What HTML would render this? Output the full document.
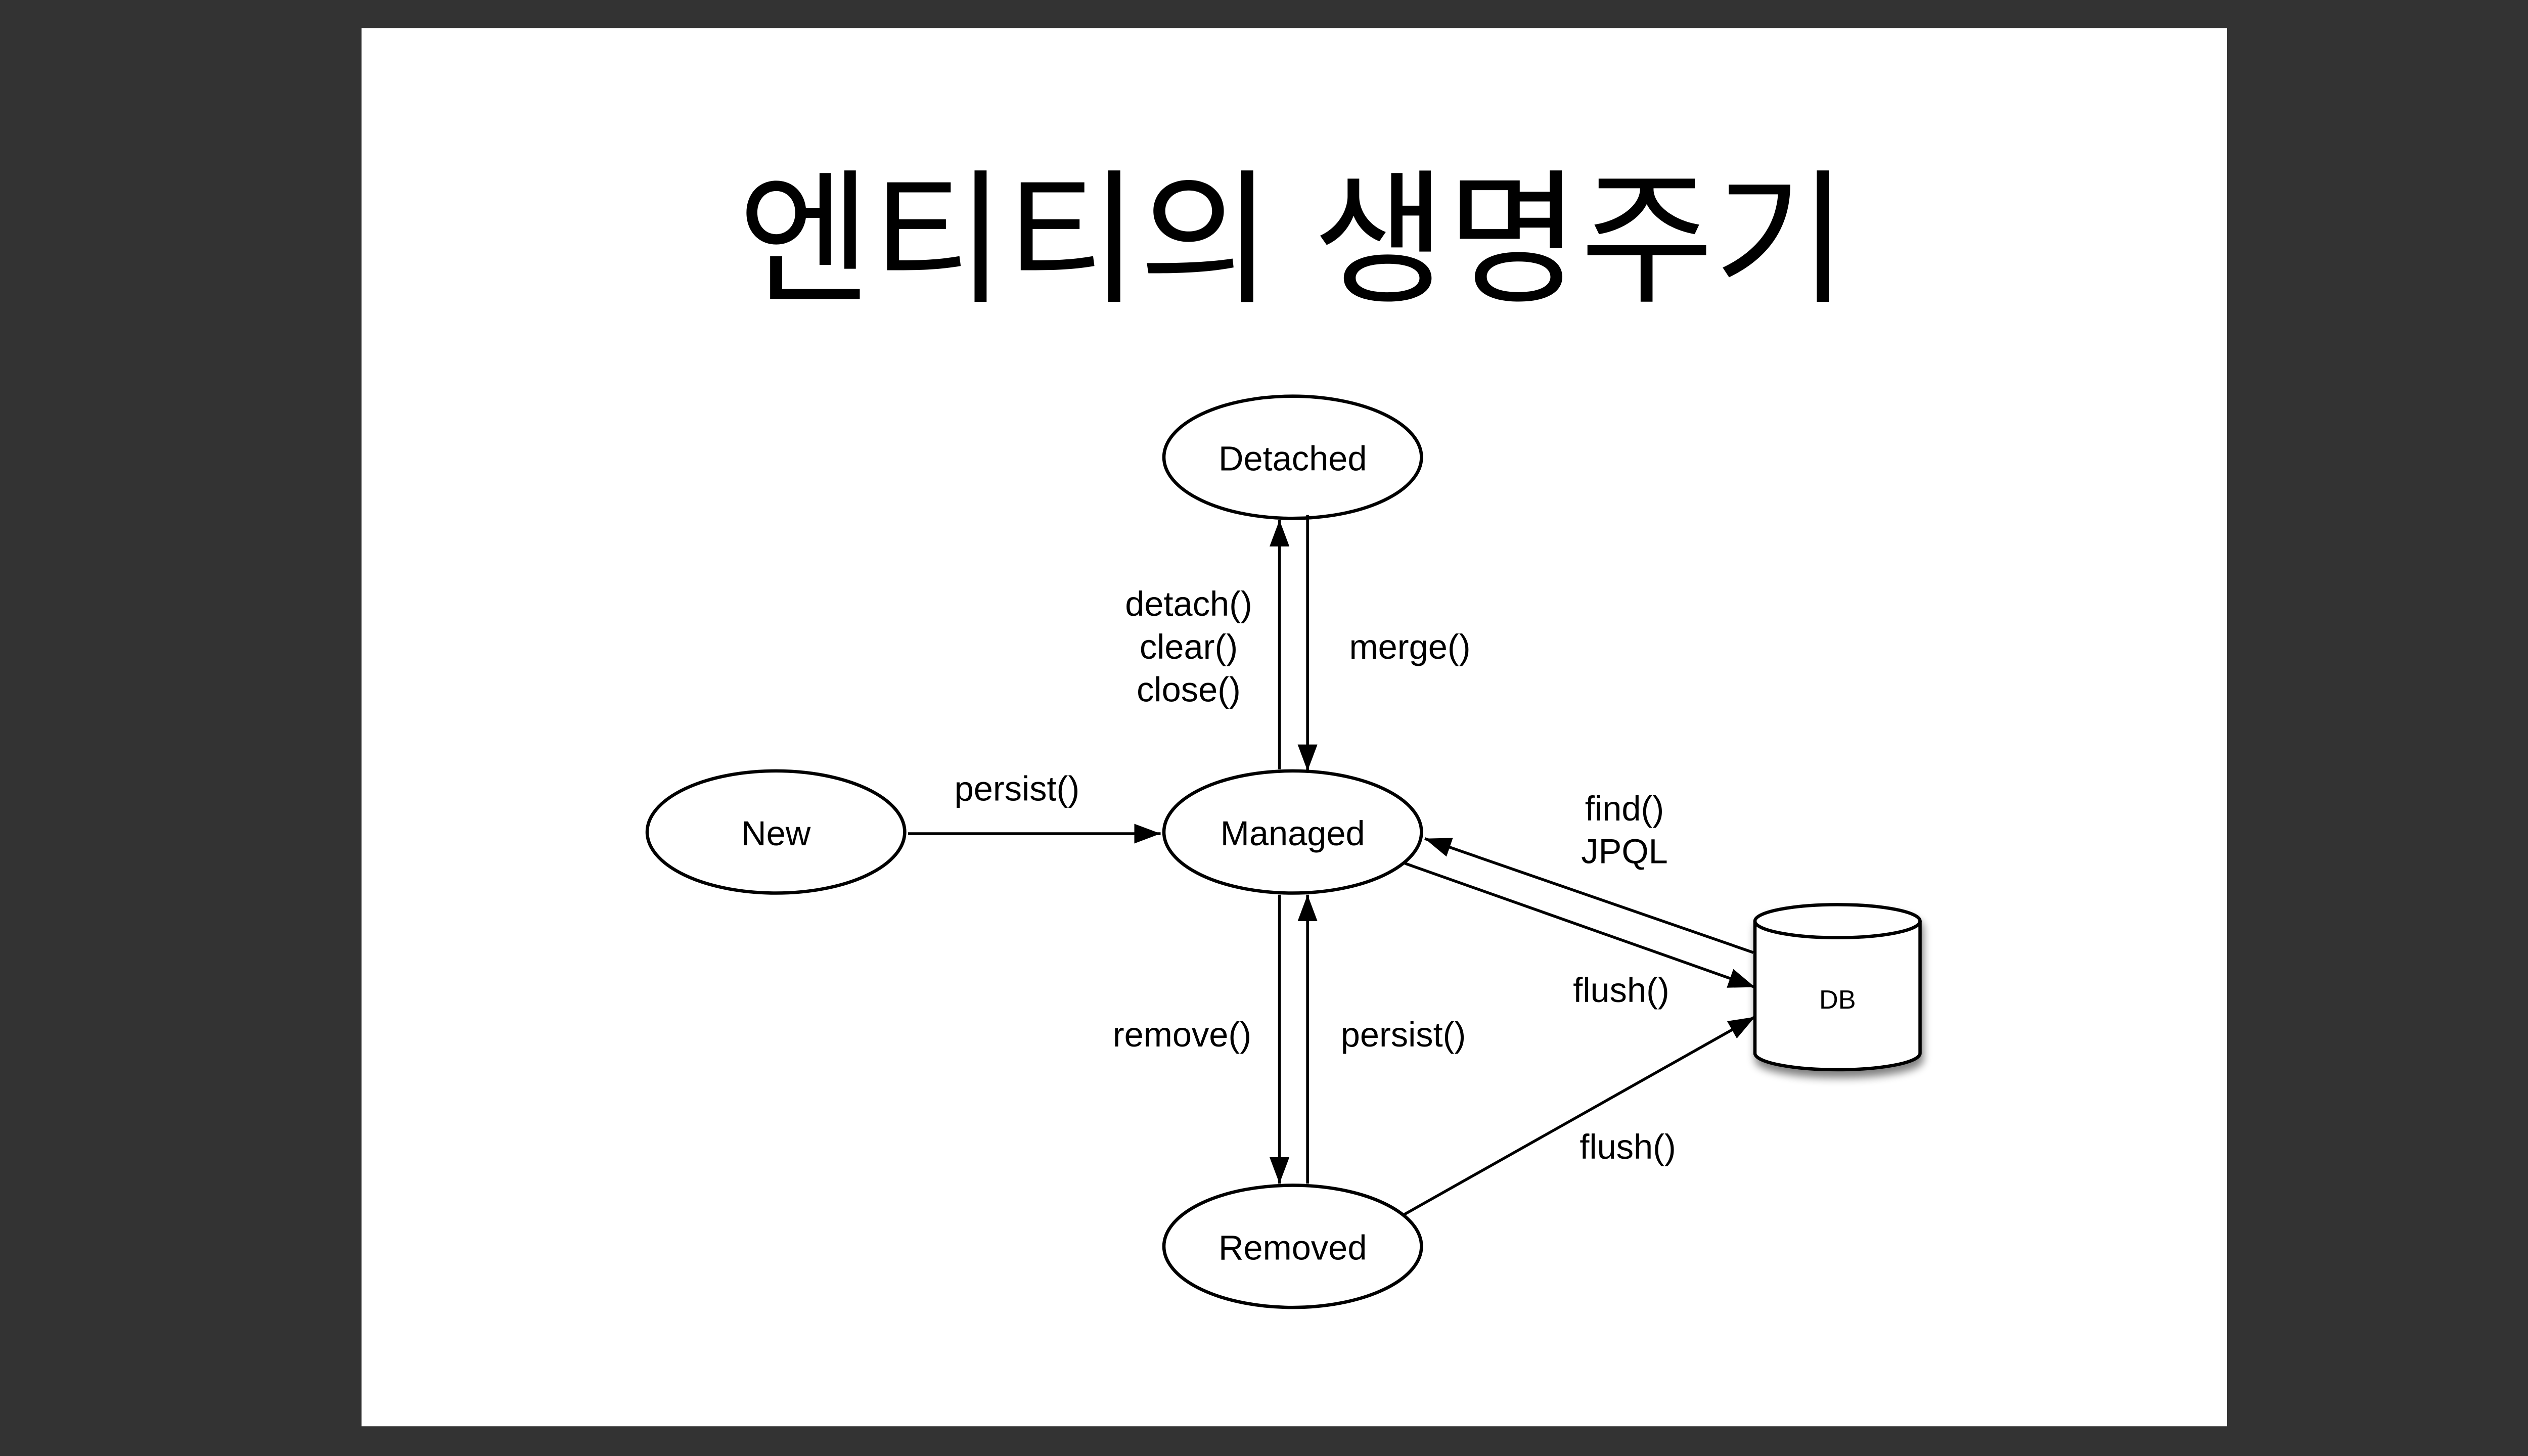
<!DOCTYPE html>
<html><head><meta charset="utf-8">
<style>
html,body{margin:0;padding:0;background:#333333;}
svg{display:block;}
</style></head>
<body>
<svg width="5120" height="2880" viewBox="0 0 1568 882" xmlns="http://www.w3.org/2000/svg">
<defs>
<marker id="ah" viewBox="0 0 16 12" refX="16" refY="6" markerWidth="16" markerHeight="12" markerUnits="userSpaceOnUse" orient="auto">
<path d="M0,0 L16,6 L0,12 z" fill="#000"/>
</marker>
<filter id="sh" x="-20%" y="-20%" width="150%" height="150%">
<feGaussianBlur in="SourceAlpha" stdDeviation="2.5"/>
<feOffset dx="1" dy="4"/>
<feComponentTransfer><feFuncA type="linear" slope="0.5"/></feComponentTransfer>
<feMerge><feMergeNode/><feMergeNode in="SourceGraphic"/></feMerge>
</filter>
</defs>
<rect x="0" y="0" width="1568" height="882" fill="#333333"/>
<rect x="219" y="17" width="1130" height="847" fill="#ffffff"/>
<text x="783" y="176" text-anchor="middle" font-family="'Liberation Sans','Noto Sans CJK KR',sans-serif" font-size="88" fill="#000">엔티티의 생명주기</text>

<g fill="#fff" stroke="#000" stroke-width="2">
<ellipse cx="783" cy="277" rx="78" ry="37"/>
<ellipse cx="783" cy="504" rx="78" ry="37"/>
<ellipse cx="470" cy="504" rx="78" ry="37"/>
<ellipse cx="783" cy="755" rx="78" ry="37"/>
<g filter="url(#sh)">
<path d="M1063,558 L1063,638 A50,10 0 0 0 1163,638 L1163,558 A50,10 0 0 0 1063,558 z"/>
</g>
<path d="M1063,558 A50,10 0 0 0 1163,558" fill="none"/>
</g>

<g stroke="#000" stroke-width="1.7" fill="none" marker-end="url(#ah)">
<line x1="550" y1="505" x2="703" y2="505"/>
<line x1="775" y1="466" x2="775" y2="315"/>
<line x1="792" y1="312" x2="792" y2="467"/>
<line x1="775" y1="542" x2="775" y2="717"/>
<line x1="792" y1="717" x2="792" y2="542"/>
<line x1="1062" y1="577" x2="863" y2="508"/>
<line x1="851" y1="523" x2="1063" y2="598"/>
<line x1="850" y1="736" x2="1063" y2="616"/>
</g>

<g font-family="'Liberation Sans',sans-serif" font-size="21" fill="#000" text-anchor="middle">
<text x="783" y="285">Detached</text>
<text x="783" y="512">Managed</text>
<text x="470" y="512">New</text>
<text x="783" y="763">Removed</text>
<text x="1113" y="611" font-size="16">DB</text>
<text x="616" y="485">persist()</text>
<text x="720" y="373">detach()</text>
<text x="720" y="399">clear()</text>
<text x="720" y="425">close()</text>
<text x="854" y="399">merge()</text>
<text x="984" y="497">find()</text>
<text x="984" y="523">JPQL</text>
<text x="982" y="607">flush()</text>
<text x="716" y="634">remove()</text>
<text x="850" y="634">persist()</text>
<text x="986" y="702">flush()</text>
</g>
</svg>
</body></html>
